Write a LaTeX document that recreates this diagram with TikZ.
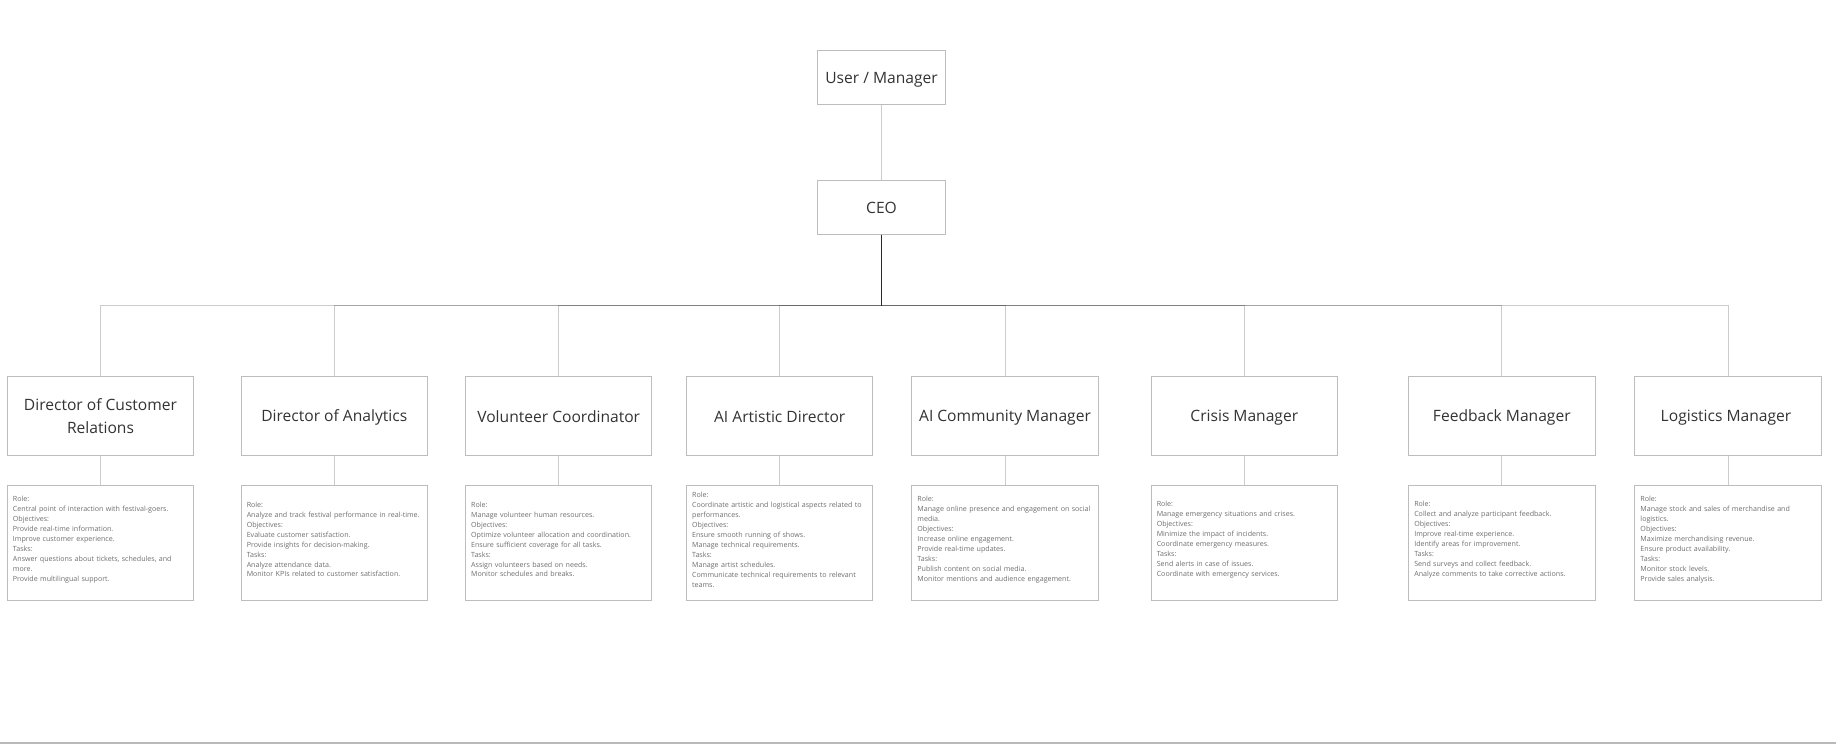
\documentclass[tikz,border=0pt]{standalone}
\usepackage{fontspec}
\setmainfont{Open Sans}
\usetikzlibrary{positioning}
\definecolor{boxgray}{HTML}{BDBDBD}
\definecolor{titlegray}{HTML}{333333}
\definecolor{textgray}{HTML}{6E6E6E}
\newcommand{\titlestrut}{\rule[-2.6pt]{0pt}{18.2pt}}
\tikzset{
    topbox/.style={draw=boxgray, line width=1pt, fill=white, minimum width=127.6pt, minimum height=53.5pt, text=titlegray, font=\fontsize{15.6}{22.5}\selectfont},
    rolebox/.style={topbox, minimum width=186.5pt, minimum height=79.3pt, align=center},
    descbox/.style={draw=boxgray, line width=1pt, fill=white, minimum width=186.5pt, minimum height=114.3pt},
    desctext/.style={text=textgray, inner sep=0pt, text width=180pt, align=left, anchor=west, font=\fontsize{7.1}{10}\selectfont},
    link/.style={draw=black, draw opacity=0.2, line width=1pt},
}
\begin{document}
\begin{tikzpicture}[x=1pt, y=-1pt]
    \useasboundingbox (0,0) rectangle (1836,746);

    % Draw the top of the chart
    \node[topbox] (user) at (881.5,77.4) {\titlestrut User / Manager};
    \node[topbox] (ceo) at (881.5,207.3) {\titlestrut CEO};
    \coordinate (bus) at (881.5,305.3);
    \draw[link] (user) -- (ceo);

    % Draw the role boxes
    \foreach \i/\cx/\ttl in {
1/100.5/{Director of Customer\\Relations}, 2/334.3/{Director of Analytics},
3/558.7/{Volunteer Coordinator}, 4/779.7/{AI Artistic Director},
5/1005/{AI Community Manager}, 6/1244.3/{Crisis Manager},
7/1501.8/{Feedback Manager}, 8/1728/{Logistics Manager}
    } {
        \node[rolebox] (role\i) at (\cx,415.65) {\titlestrut\ttl\titlestrut};
        \node[descbox] (desc\i) at (\cx,542.85) {};
        \draw[link] (ceo) -- (bus) -| (role\i);
        \draw[link] (role\i) -- (desc\i);
    }

    % Add the descriptions
    \foreach \i/\dsc in {
1/{Role:\\Central point of interaction with festival-goers.\\Objectives:\\Provide real-time information.\\Improve customer experience.\\Tasks:\\Answer questions about tickets, schedules, and\\more.\\Provide multilingual support.},
2/{Role:\\Analyze and track festival performance in real-time.\\Objectives:\\Evaluate customer satisfaction.\\Provide insights for decision-making.\\Tasks:\\Analyze attendance data.\\Monitor KPIs related to customer satisfaction.},
3/{Role:\\Manage volunteer human resources.\\Objectives:\\Optimize volunteer allocation and coordination.\\Ensure sufficient coverage for all tasks.\\Tasks:\\Assign volunteers based on needs.\\Monitor schedules and breaks.},
4/{Role:\\Coordinate artistic and logistical aspects related to\\performances.\\Objectives:\\Ensure smooth running of shows.\\Manage technical requirements.\\Tasks:\\Manage artist schedules.\\Communicate technical requirements to relevant\\teams.},
5/{Role:\\Manage online presence and engagement on social\\media.\\Objectives:\\Increase online engagement.\\Provide real-time updates.\\Tasks:\\Publish content on social media.\\Monitor mentions and audience engagement.},
6/{Role:\\Manage emergency situations and crises.\\Objectives:\\Minimize the impact of incidents.\\Coordinate emergency measures.\\Tasks:\\Send alerts in case of issues.\\Coordinate with emergency services.},
7/{Role:\\Collect and analyze participant feedback.\\Objectives:\\Improve real-time experience.\\Identify areas for improvement.\\Tasks:\\Send surveys and collect feedback.\\Analyze comments to take corrective actions.},
8/{Role:\\Manage stock and sales of merchandise and\\logistics.\\Objectives:\\Maximize merchandising revenue.\\Ensure product availability.\\Tasks:\\Monitor stock levels.\\Provide sales analysis.}
    } {
        \node[desctext] (text\i) at ([xshift=6pt, yshift=3.5pt]desc\i.west) {\dsc};
    }

    % Draw the bottom rule
    \draw[gray!55, line width=1.5pt] (0,743) -- (1836,743);
\end{tikzpicture}
\end{document}
